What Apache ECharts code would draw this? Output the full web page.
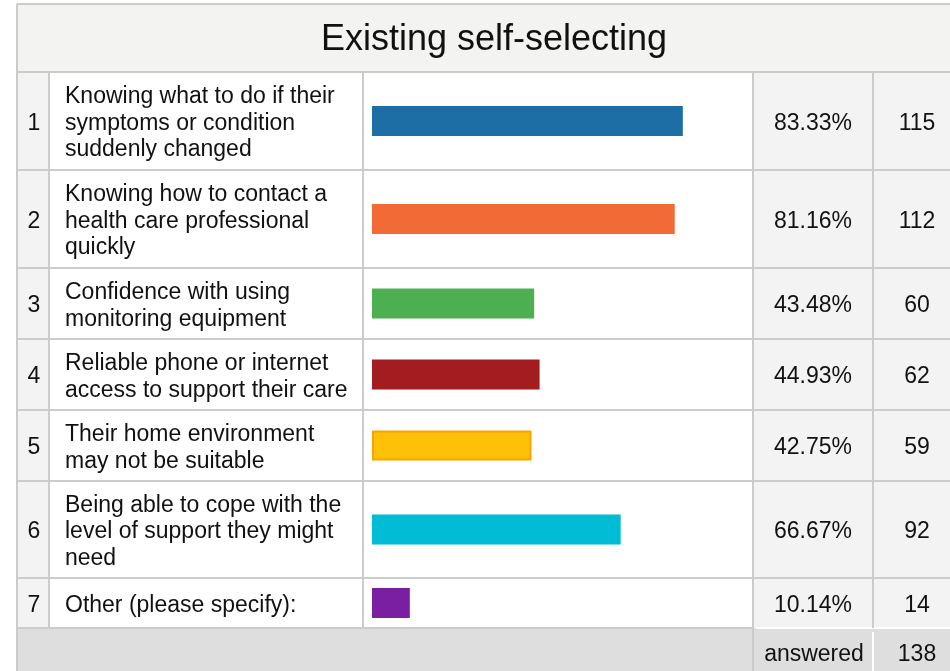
<!DOCTYPE html>
<html>
<head>
<meta charset="utf-8">
<script src="https://cdn.jsdelivr.net/npm/echarts@6/dist/echarts.min.js"></script>
<style>
  html, body { margin: 0; padding: 0; background: #ffffff; }
  #chart { width: 950px; height: 671px; }
</style>
</head>
<body>
<div id="chart"></div>
<script>
// Survey results: share of respondents selecting each concern
const titleText = 'Existing self-selecting';
const categories = [
  'Knowing what to do if their symptoms or condition suddenly changed',
  'Knowing how to contact a health care professional quickly',
  'Confidence with using monitoring equipment',
  'Reliable phone or internet access to support their care',
  'Their home environment may not be suitable',
  'Being able to cope with the level of support they might need',
  'Other (please specify):'
];
const percents = [83.33, 81.16, 43.48, 44.93, 42.75, 66.67, 10.14];
const counts = [115, 112, 60, 62, 59, 92, 14];
const answeredLabel = 'answered';
const answeredCount = 138;
const barColors = ['#1c6ea4', '#f26a35', '#4caf50', '#a31c1f', '#fec107', '#00bcd4', '#7b1fa2'];

// Table layout (pixels)
const FONT = '"Liberation Sans", Arial, sans-serif';
const tableLeft = 17, tableTop = 4, titleBottom = 72;
const rowEdges = [72, 170, 268, 339, 410, 481, 578, 628];
const colX = [17, 49, 363, 753, 873, 962];
const pageBottom = 671;
const lineColor = '#cccccc';
const cellGray = '#f3f3f3';
const textShift = 2.5;

const graphics = [];
function rect(x, y, w, h, fill, z) {
  graphics.push({ type: 'rect', z: z || 0, silent: true, shape: { x, y, width: w, height: h }, style: { fill } });
}
function line(x1, y1, x2, y2, stroke, w) {
  graphics.push({ type: 'line', z: 5, silent: true, shape: { x1, y1, x2, y2 }, style: { stroke, lineWidth: w || 2 } });
}
function text(str, x, y, size, align, extra) {
  graphics.push({
    type: 'text', z: 6, silent: true,
    style: Object.assign({ text: str, x, y: y + textShift, font: size + 'px ' + FONT, fill: '#111111', align, verticalAlign: 'middle' }, extra || {})
  });
}

// Backgrounds
rect(tableLeft, tableTop, 950 - tableLeft, titleBottom - tableTop, '#f3f3f2');
rect(colX[0], rowEdges[0], colX[1] - colX[0], rowEdges[7] - rowEdges[0], cellGray);
rect(colX[1], rowEdges[0], colX[3] - colX[1], rowEdges[7] - rowEdges[0], '#ffffff');
rect(colX[3], rowEdges[0], 950 - colX[3], rowEdges[7] - rowEdges[0], cellGray);
rect(tableLeft, rowEdges[7], 950 - tableLeft, pageBottom - rowEdges[7], '#dedede');

// Grid lines
line(tableLeft, tableTop, 950, tableTop, lineColor);
line(tableLeft, tableTop, tableLeft, pageBottom, lineColor);
rowEdges.forEach(function (y, i) {
  if (i === rowEdges.length - 1) {
    line(tableLeft, y, colX[3], y, lineColor);
    line(colX[3] + 3, y, 950, y, '#ffffff');
  } else {
    line(tableLeft, y, 950, y, lineColor);
  }
});
colX.slice(1, 5).forEach(function (x) {
  line(x, rowEdges[0], x, rowEdges[7], lineColor);
});
line(colX[3], rowEdges[7], colX[3], pageBottom, lineColor);
line(colX[4], rowEdges[7] + 4, colX[4], pageBottom, '#ffffff');

// Title
text(titleText, 494, 38, 36, 'center');

// Rows: one grid per row so each bar is placed by its own value axis
const grids = [], xAxes = [], yAxes = [], series = [];
categories.forEach(function (cat, i) {
  const top = rowEdges[i], h = rowEdges[i + 1] - rowEdges[i];
  const cy = top + h / 2;
  text(String(i + 1), (colX[0] + colX[1]) / 2 + 1, cy, 23, 'center');
  text(cat, 65, cy, 23, 'left', { width: 292, overflow: 'break', lineHeight: 26.5 });
  text(percents[i].toFixed(2) + '%', (colX[3] + colX[4]) / 2, cy, 23, 'center');
  text(String(counts[i]), 917, cy, 23, 'center');

  grids.push({ left: 372, width: 373, top: top, height: h, containLabel: false });
  xAxes.push({ gridIndex: i, type: 'value', min: 0, max: 100, show: false });
  yAxes.push({ gridIndex: i, type: 'category', data: [cat], show: false });
  const item = { value: percents[i], itemStyle: { color: barColors[i] } };
  if (i === 4) { item.itemStyle.borderColor = '#fba400'; item.itemStyle.borderWidth = 2; }
  series.push({
    type: 'bar', xAxisIndex: i, yAxisIndex: i, barWidth: 30,
    data: [item], silent: true, animation: false
  });
});
text(answeredLabel, 814, 652, 23, 'center');
text(String(answeredCount), 917, 652, 23, 'center');

const chart = echarts.init(document.getElementById('chart'), null, { renderer: 'canvas' });
chart.setOption({
  animation: false,
  backgroundColor: '#ffffff',
  grid: grids,
  xAxis: xAxes,
  yAxis: yAxes,
  series: series,
  graphic: { elements: graphics }
});
</script>
</body>
</html>
